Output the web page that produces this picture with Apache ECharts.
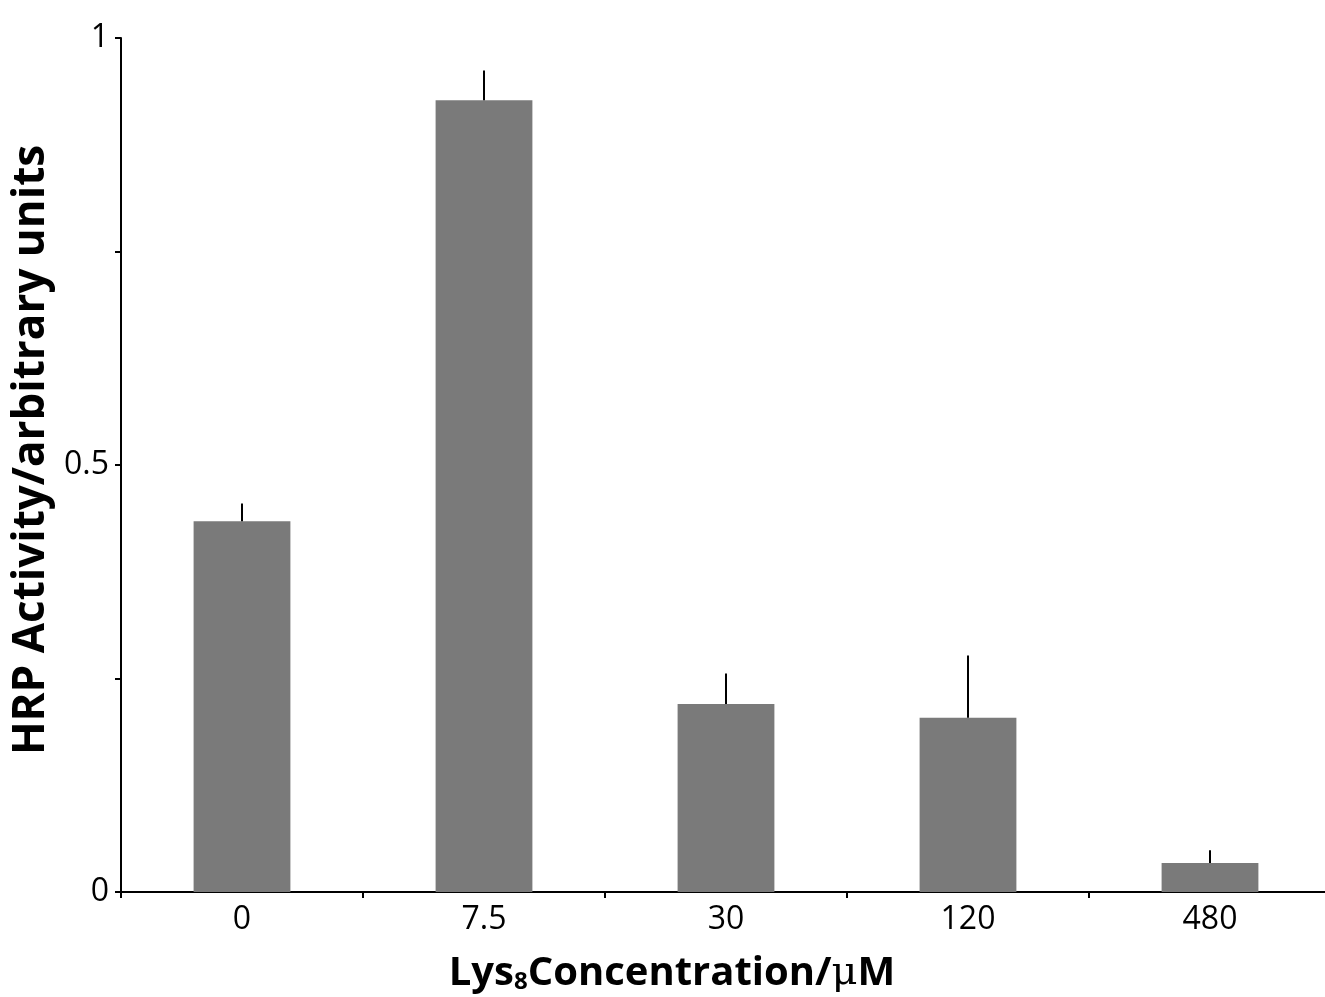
<!DOCTYPE html>
<html>
<head>
<meta charset="utf-8">
<script src="https://cdn.jsdelivr.net/npm/echarts@6/dist/echarts.min.js"></script>
<style>
html,body{margin:0;padding:0;background:#fff;}
#chart{width:1325px;height:997px;}
</style>
</head>
<body>
<div id="chart"></div>
<script>
const categories = ['0', '7.5', '30', '120', '480'];
const activity = [0.434, 0.927, 0.220, 0.204, 0.034];
const errorTop = [0.455, 0.962, 0.256, 0.277, 0.049];
const yTickLabels = {0: '0', 0.5: '0.5', 1: '1'};

const chart = echarts.init(document.getElementById('chart'));
const font = '"Open Sans", "Noto Sans", sans-serif';
chart.setOption({
  animation: false,
  backgroundColor: '#fff',
  grid: {left: 121, right: -6, top: 38, bottom: 105, containLabel: false, outerBoundsMode: 'none'},
  xAxis: {
    type: 'category',
    data: categories,
    axisLine: {lineStyle: {color: '#000', width: 2}},
    axisTick: {show: true, length: 6, lineStyle: {color: '#000', width: 2}},
    axisLabel: {color: '#000', fontSize: 32, fontFamily: font, margin: 12},
    name: '{b|Lys}{s|8}{b|Concentration/}{m|μ}{b|M}',
    nameLocation: 'middle',
    nameGap: 62,
    nameTextStyle: {
      padding: [0, 108, 0, 0],
      rich: {
        b: {fontSize: 40, fontWeight: 'bold', fontFamily: font, color: '#000'},
        s: {fontSize: 24, fontWeight: 'bold', fontFamily: font, color: '#000', verticalAlign: 'bottom', padding: [16, 0, 0, 0]},
        m: {fontSize: 40, fontFamily: '"DejaVu Serif", serif', color: '#000'}
      }
    }
  },
  yAxis: {
    type: 'value',
    min: 0, max: 1, interval: 0.25,
    splitLine: {show: false},
    axisLine: {show: true, lineStyle: {color: '#000', width: 2}},
    axisTick: {show: true, length: 6, lineStyle: {color: '#000', width: 2}},
    axisLabel: {
      color: '#000', fontSize: 32, fontFamily: font, margin: 12,
      formatter: v => (yTickLabels[v] !== undefined ? yTickLabels[v] : '')
    },
    name: 'HRP Activity/arbitrary units',
    nameLocation: 'middle',
    nameGap: 64,
    nameTextStyle: {fontSize: 44, fontWeight: 'bold', fontFamily: font, color: '#000', padding: [0, 0, 0, 30]}
  },
  series: [
    {
      type: 'bar',
      data: activity,
      barWidth: '40%',
      itemStyle: {color: '#7a7a7a'},
      z: 2
    },
    {
      type: 'custom',
      data: categories.map((c, i) => [i, activity[i], errorTop[i]]),
      renderItem: function (params, api) {
        const p0 = api.coord([api.value(0), api.value(1)]);
        const p1 = api.coord([api.value(0), api.value(2)]);
        return {
          type: 'line',
          shape: {x1: p0[0], y1: p0[1], x2: p1[0], y2: p1[1]},
          style: {stroke: '#000', lineWidth: 2}
        };
      },
      z: 3
    }
  ]
});
</script>
</body>
</html>
